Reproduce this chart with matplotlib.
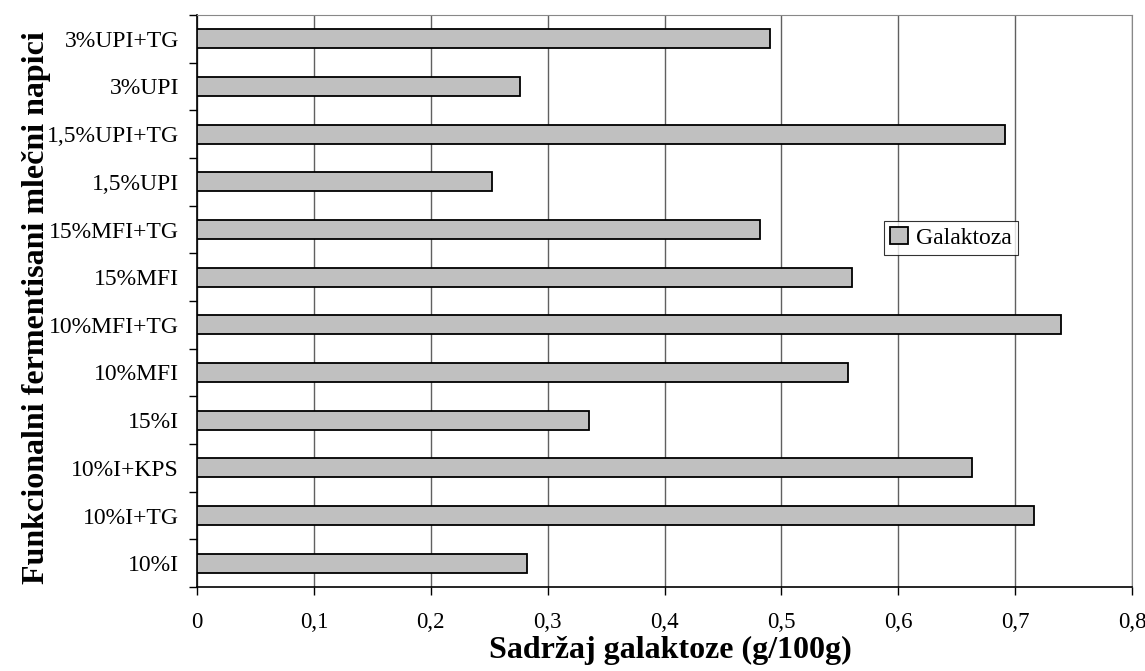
import numpy as np
import matplotlib.pyplot as plt
from matplotlib.ticker import FixedLocator, FuncFormatter

# categories listed bottom to top, as on the chart
categories = ['10%I', '10%I+TG', '10%I+KPS', '15%I', '10%MFI', '10%MFI+TG',
              '15%MFI', '15%MFI+TG', '1,5%UPI', '1,5%UPI+TG', '3%UPI', '3%UPI+TG']
galaktoza = [0.282, 0.716, 0.663, 0.335, 0.557, 0.739,
             0.560, 0.482, 0.252, 0.691, 0.276, 0.490]
x_ticks = [0, 0.1, 0.2, 0.3, 0.4, 0.5, 0.6, 0.7, 0.8]

plt.rcParams['font.family'] = ['Liberation Serif', 'DejaVu Serif']

fig = plt.figure(figsize=(11.45, 6.71), dpi=100)
ax = fig.add_axes([197 / 1145, 1 - 587 / 671, (1132 - 197) / 1145, (587 - 15) / 671])

y = np.arange(len(categories))
ax.barh(y, galaktoza, height=0.4, color='#c0c0c0', edgecolor='black',
        linewidth=1.3, label='Galaktoza', zorder=3)

ax.set_xlim(0, 0.8)
ax.set_ylim(-0.5, len(categories) - 0.5)

ax.set_xticks(x_ticks)
ax.xaxis.set_major_formatter(FuncFormatter(lambda v, p: ('%g' % round(v, 2)).replace('.', ',')))
ax.grid(axis='x', color='#606060', linewidth=1, zorder=0)

# category ticks sit between bars, labels sit at bar centres
ax.yaxis.set_major_locator(FixedLocator(np.arange(-0.5, len(categories), 1)))
ax.yaxis.set_major_formatter(FuncFormatter(lambda v, p: ''))
ax.yaxis.set_minor_locator(FixedLocator(y))
ax.set_yticklabels(categories, minor=True)
ax.tick_params(axis='y', which='minor', length=0, pad=13, labelsize=17)
ax.tick_params(axis='y', which='major', length=6, width=1, direction='out')
ax.tick_params(axis='x', length=6, width=1, direction='out', pad=12, labelsize=16.5)

for s in ['top', 'right']:
    ax.spines[s].set_color('#888888')
for s in ['left', 'bottom']:
    ax.spines[s].set_color('black')
    ax.spines[s].set_linewidth(1.2)

fig.text(670 / 1145, 1 - 650 / 671, 'Sadržaj galaktoze (g/100g)', fontsize=23,
         fontweight='bold', ha='center', va='center')
fig.text(37 / 1145, 1 - 308 / 671, 'Funkcionalni fermentisani mlečni napici', fontsize=23,
         fontweight='bold', ha='center', va='center', rotation=90)

leg = ax.legend(loc='upper left', bbox_to_anchor=((884 - 197) / 935, 1 - (221 - 15) / 572),
                fontsize=17, frameon=True, fancybox=False, edgecolor='black',
                borderpad=0.25, handlelength=0.75, handleheight=0.75, handletextpad=0.35,
                borderaxespad=0)
leg.get_frame().set_linewidth(0.8)

fig.savefig('out.png', dpi=100)
